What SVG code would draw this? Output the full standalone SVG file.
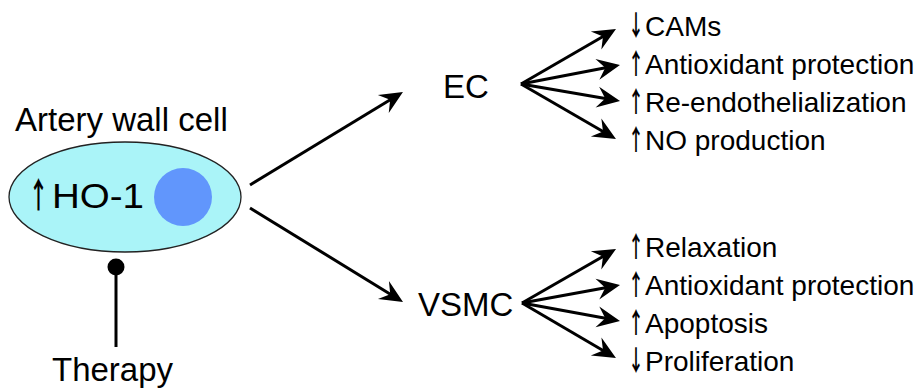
<svg xmlns="http://www.w3.org/2000/svg" width="921" height="388" viewBox="0 0 921 388">
<style>
text{font-family:"Liberation Sans",Arial,sans-serif;fill:#000}
.big{font-size:33px}
.item{font-size:28px}
.ar{font-family:"Noto Sans CJK JP","Noto Sans CJK SC",sans-serif;font-weight:700;font-size:28px}
.conn{stroke:#000;stroke-width:3;fill:none;marker-end:url(#ah)}
</style>
<defs>
<marker id="ah" markerUnits="userSpaceOnUse" markerWidth="30" markerHeight="26" viewBox="-26 -13 30 26" refX="-12" refY="0" orient="auto">
<path d="M0,0 L-23,-10.5 L-15,0 L-23,10.5 Z" fill="#000"/>
</marker>
</defs>
<rect width="921" height="388" fill="#fff"/>
<g id="cell">
<ellipse cx="125" cy="197" rx="116" ry="55" fill="#aaf4f8" stroke="#222" stroke-width="1.3"/>
<circle cx="183" cy="197" r="29" fill="#6196fc"/>
<text class="ar" style="font-size:35px" transform="translate(28.5,208) scale(0.571,1)">↑</text>
<text x="52" y="208" style="font-size:35px" textLength="92" lengthAdjust="spacingAndGlyphs">HO-1</text>
<text class="big" x="15" y="131">Artery wall cell</text>
</g>
<g id="therapy">
<text class="big" x="52" y="381">Therapy</text>
</g>
<g id="ec">
<text class="big" x="443" y="98">EC</text>
</g>
<g id="vsmc">
<text class="big" x="418" y="316">VSMC</text>
</g>
<g id="ec-effects">
<text class="ar" transform="translate(628,36) scale(0.571,1)">↓</text><text class="item" x="645" y="36">CAMs</text>
<text class="ar" transform="translate(628,74) scale(0.571,1)">↑</text><text class="item" x="645" y="74">Antioxidant protection</text>
<text class="ar" transform="translate(628,112) scale(0.571,1)">↑</text><text class="item" x="645" y="112">Re-endothelialization</text>
<text class="ar" transform="translate(628,150) scale(0.571,1)">↑</text><text class="item" x="645" y="150">NO production</text>
</g>
<g id="vsmc-effects">
<text class="ar" transform="translate(628,257) scale(0.571,1)">↑</text><text class="item" x="645" y="257">Relaxation</text>
<text class="ar" transform="translate(628,295) scale(0.571,1)">↑</text><text class="item" x="645" y="295">Antioxidant protection</text>
<text class="ar" transform="translate(628,333) scale(0.571,1)">↑</text><text class="item" x="645" y="333">Apoptosis</text>
<text class="ar" transform="translate(628,371) scale(0.571,1)">↓</text><text class="item" x="645" y="371">Proliferation</text>
</g>
<g id="connectors">
<line class="conn" x1="250" y1="185" x2="392.7" y2="98.2"/>
<line class="conn" x1="250" y1="208" x2="392.8" y2="295.7"/>
<line class="conn" x1="521" y1="84" x2="605.6" y2="35"/>
<line class="conn" x1="521" y1="84" x2="608.2" y2="67.3"/>
<line class="conn" x1="521" y1="84" x2="608.2" y2="99"/>
<line class="conn" x1="521" y1="84" x2="605.6" y2="133"/>
<line class="conn" x1="522" y1="303" x2="605.6" y2="255"/>
<line class="conn" x1="522" y1="303" x2="608.2" y2="287.2"/>
<line class="conn" x1="522" y1="303" x2="608.2" y2="318.8"/>
<line class="conn" x1="522" y1="303" x2="605.6" y2="352"/>
<line x1="116" y1="347" x2="116" y2="270" stroke="#000" stroke-width="3"/>
<circle cx="116" cy="267" r="8.5" fill="#000"/>
</g>
</svg>
